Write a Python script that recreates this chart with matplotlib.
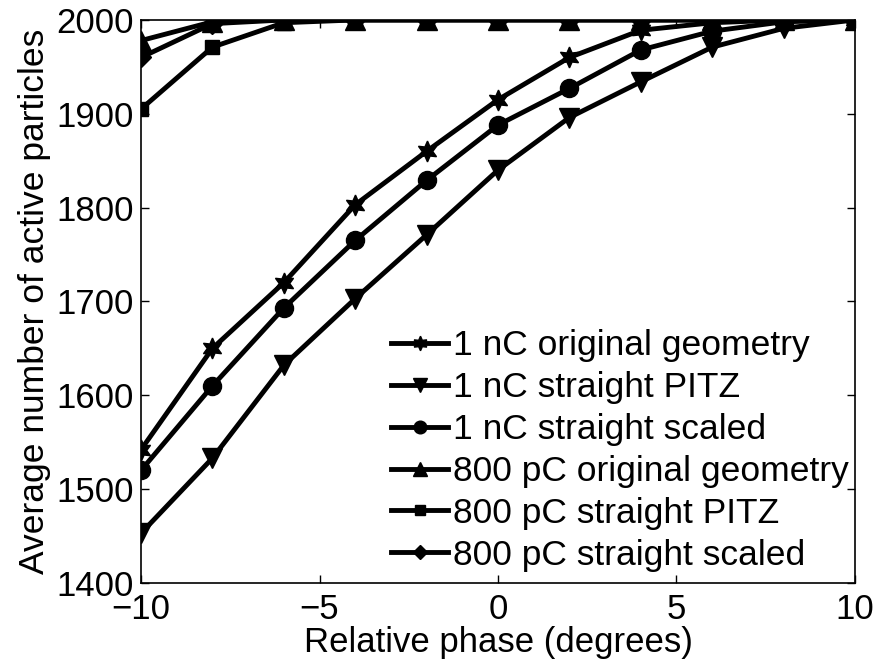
import matplotlib
matplotlib.use("Agg")
import matplotlib.pyplot as plt

plt.rcParams['font.family'] = ['Liberation Sans', 'DejaVu Sans']

phase = [-10, -8, -6, -4, -2, 0, 2, 4, 6, 8, 10]

nc1_original = [1542, 1650, 1720, 1803, 1860, 1915, 1960, 1989, 1997, 2000, 2000]
nc1_pitz = [1453, 1533, 1632, 1703, 1771, 1840, 1896, 1934, 1971, 1991, 2000]
nc1_scaled = [1520, 1610, 1693, 1765, 1829, 1888, 1927, 1968, 1988, 1998, 2000]
pc800_original = [1978, 1998, 2000, 2000, 2000, 2000, 2000, 2000, 2000, 2000, 2000]
pc800_pitz = [1905, 1971, 1997, 2000, 2000, 2000, 2000, 2000, 2000, 2000, 2000]
pc800_scaled = [1960, 1996, 2000, 2000, 2000, 2000, 2000, 2000, 2000, 2000, 2000]

labels = ["1 nC original geometry", "1 nC straight PITZ", "1 nC straight scaled",
          "800 pC original geometry", "800 pC straight PITZ", "800 pC straight scaled"]
series = [nc1_original, nc1_pitz, nc1_scaled, pc800_original, pc800_pitz, pc800_scaled]
markers = [(6, 1, 0), 'v', 'o', '^', 's', 'D']
msizes = [15, 15, 13, 15, 10, 10]

fig = plt.figure(figsize=(8.78, 6.64), dpi=100)
ax = fig.add_axes([0.1606, 0.122, 0.8132, 0.848])

for y, lab, m, ms in zip(series, labels, markers, msizes):
    ax.plot(phase, y, color='black', linewidth=3.5, marker=m, markersize=ms,
            markerfacecolor='black', markeredgecolor='black', label=lab)

ax.set_xlim(-10, 10)
ax.set_ylim(1400, 2000)
ax.set_xticks([-10, -5, 0, 5, 10])
ax.set_yticks([1400, 1500, 1600, 1700, 1800, 1900, 2000])
ax.set_xticklabels(['\u221210', '\u22125', '0', '5', '10'])
ax.tick_params(direction='in', top=True, right=True, labelsize=25, length=6, width=1)
ax.tick_params(axis='x', pad=7)
ax.tick_params(axis='y', pad=5)
for s in ax.spines.values():
    s.set_linewidth(1.2)
ax.set_xlabel('Relative phase (degrees)', fontsize=25, labelpad=0)
ax.set_ylabel('Average number of active particles', fontsize=25.5, labelpad=4)

leg = ax.legend(loc='lower right', bbox_to_anchor=(0.992, 0.02), fontsize=25.5,
                frameon=False, handlelength=1.6, handletextpad=0.15,
                borderaxespad=0.0, labelspacing=0.25, borderpad=0.0,
                markerscale=0.7)

fig.savefig('out.png', dpi=100)
